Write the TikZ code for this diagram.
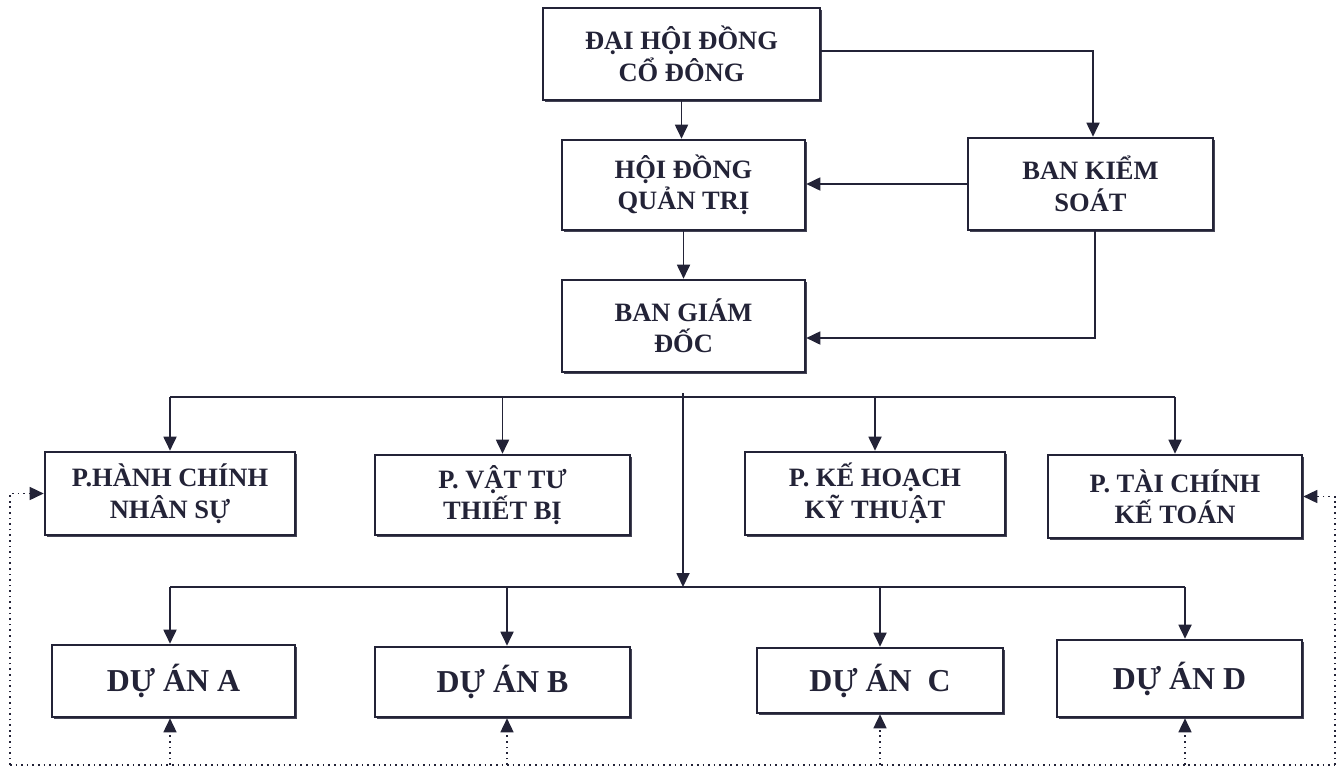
\documentclass[tikz,border=0pt]{standalone}
\usepackage{fontspec}
\setmainfont{Liberation Serif}
\usetikzlibrary{arrows.meta,shadows}
\definecolor{ink}{RGB}{35,35,55}
\tikzset{
  box/.style={draw=ink,line width=1.3bp,fill=white,rectangle,align=center,
    text=ink,font=\bfseries\fontsize{13.3}{15.8}\selectfont,inner sep=0pt,
    drop shadow={shadow xshift=1.1bp,shadow yshift=-1.1bp,fill=ink!85,opacity=1}},
  dabox/.style={box,font=\bfseries\fontsize{16}{18}\selectfont},
  link/.style={draw=ink,line width=0.9bp},
  arr/.style={link,-{Triangle[length=7bp,width=6.5bp]}},
  fb/.style={draw=ink,line width=0.8bp,dotted,-{Triangle[length=7bp,width=6.5bp]}}
}
\begin{document}
\begin{tikzpicture}[x=0.5bp,y=-0.5bp]
  \useasboundingbox (0,0) rectangle (1343,767);
  %% top
  \node (DHDCD) at (681.5,54) [box,minimum width=138.5bp,minimum height=46bp] {ĐẠI HỘI ĐỒNG\\CỔ ĐÔNG};
  \node (HDQT) at (683.5,185) [box,minimum width=121.5bp,minimum height=45bp] {HỘI ĐỒNG\\QUẢN TRỊ};
  \node (BKS) at (1090.5,184) [box,minimum width=122.5bp,minimum height=46bp] {BAN KIỂM\\SOÁT};
  \node (BGD) at (683.5,326) [box,minimum width=121.5bp,minimum height=46bp] {BAN GIÁM\\ĐỐC};
  %% phong ban
  \node (PHC) at (170,493.5) [box,minimum width=125bp,minimum height=41.5bp] {P.HÀNH CHÍNH\\NHÂN SỰ};
  \node (PVT) at (502.5,495) [box,minimum width=127.5bp,minimum height=40bp] {P. VẬT TƯ\\THIẾT BỊ};
  \node (PKH) at (875,493.5) [box,minimum width=130bp,minimum height=41.5bp] {P. KẾ HOẠCH\\KỸ THUẬT};
  \node (PTC) at (1175,496.5) [box,minimum width=127bp,minimum height=41.5bp] {P. TÀI CHÍNH\\KẾ TOÁN};
  %% du an
  \node (DAA) at (173.5,681) [dabox,minimum width=121.5bp,minimum height=36bp] {DỰ ÁN A};
  \node (DAB) at (502.5,682) [dabox,minimum width=127.5bp,minimum height=35bp] {DỰ ÁN B};
  \node (DAC) at (880,680.5) [dabox,minimum width=123bp,minimum height=32.5bp] {DỰ ÁN \ C};
  \node (DAD) at (1179.5,678.5) [dabox,minimum width=122.5bp,minimum height=38.5bp] {DỰ ÁN D};
  %% bus + feedback points
  \coordinate (Stub) at (683,393);
  \coordinate (Bus1) at (683,397);
  \coordinate (Bus2) at (683,587);
  \coordinate (FbL) at (10,765);
  \coordinate (FbR) at (1335,765);
  %
  \draw [arr] (DHDCD.south) -- (DHDCD.south |- HDQT.north);
  \draw [arr] ([yshift=1.5bp]DHDCD.east) -| ([xshift=1.25bp]BKS.north);
  \draw [arr] (BKS.west) -- (HDQT.east |- BKS.west);
  \draw [arr] ([xshift=2.25bp]BKS.south) |- ([yshift=-6bp]BGD.east);
  \draw [arr] (HDQT.south) -- (BGD.north);
  \draw [link] (PHC.north |- Bus1) -- (PTC.north |- Bus1);
  \draw [arr] (Stub) -- (Bus2);
  \draw [arr] (PHC.north |- Bus1) -- (PHC.north);
  \draw [arr] (PVT.north |- Bus1) -- (PVT.north);
  \draw [arr] (PKH.north |- Bus1) -- (PKH.north);
  \draw [arr] (PTC.north |- Bus1) -- (PTC.north);
  \draw [link] ([xshift=-1.75bp]DAA.north |- Bus2) -- ([xshift=2.75bp]DAD.north |- Bus2);
  \draw [arr] ([xshift=-1.75bp]DAA.north |- Bus2) -- ([xshift=-1.75bp]DAA.north);
  \draw [arr] ([xshift=2.25bp]DAB.north |- Bus2) -- ([xshift=2.25bp]DAB.north);
  \draw [arr] (DAC.north |- Bus2) -- (DAC.north);
  \draw [arr] ([xshift=2.75bp]DAD.north |- Bus2) -- ([xshift=2.75bp]DAD.north);
  %% dotted feedback
  \draw [fb,-] (FbL) -- (FbR);
  \draw [fb] (FbL) |- (PHC.west);
  \draw [fb] (FbR) |- (PTC.east);
  \draw [fb] ([xshift=-1.75bp]DAA.south |- FbL) -- ([xshift=-1.75bp]DAA.south);
  \draw [fb] ([xshift=2.25bp]DAB.south |- FbL) -- ([xshift=2.25bp]DAB.south);
  \draw [fb] (DAC.south |- FbL) -- (DAC.south);
  \draw [fb] ([xshift=2.75bp]DAD.south |- FbL) -- ([xshift=2.75bp]DAD.south);
  %
\end{tikzpicture}
\end{document}
